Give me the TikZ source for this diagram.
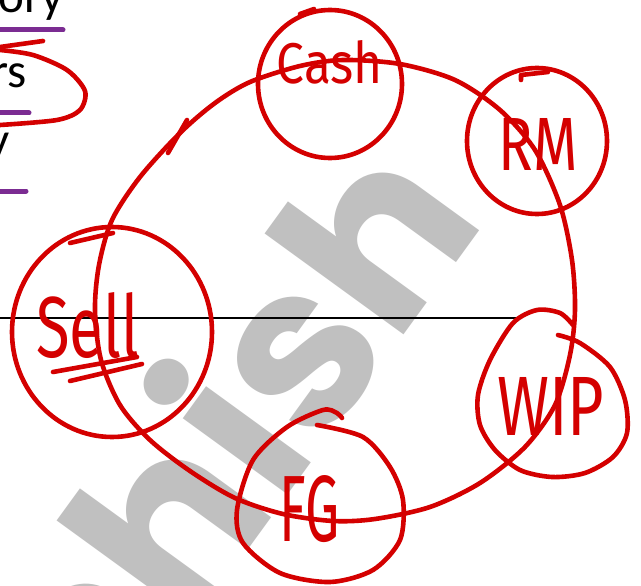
\documentclass[tikz,border=0pt]{standalone}
\usepackage{fontspec}
\usepackage{graphicx}
\setmainfont{Carlito}
\newfontfamily\wmfont{Poppins}
\newfontfamily\handfont{Fira Sans}
\definecolor{inkred}{RGB}{212,0,0}
\definecolor{inkpurple}{RGB}{123,44,146}
\definecolor{wmgray}{RGB}{192,192,192}
\begin{document}
\begin{tikzpicture}[x=1pt,y=-1pt,
  redink/.style={draw=inkred, line width=4.6pt, line cap=round, line join=round},
  purpleink/.style={draw=inkpurple, line width=5pt, line cap=round},
  blackrule/.style={draw=black, line width=2.6pt},
  handlabel/.style={text=inkred, inner sep=0pt, font=\handfont},
  bodytext/.style={text=black, inner sep=0pt, font=\fontsize{49}{58}\selectfont, anchor=base east},
]
\path[use as bounding box] (0,0) rectangle (641,586);
\clip (0,0) rectangle (641,586);
\fill[white] (0,0) rectangle (641,586);

% watermark
\node[rotate=54, anchor=base east, inner sep=0pt, text=wmgray,
      font=\wmfont\bfseries\fontsize{232}{232}\selectfont] (wm) at (488,220) {Ashish};

% black rule
\coordinate (ruleL) at (0,318);
\coordinate (ruleR) at (520,318);
\draw[blackrule] (ruleL) -- (ruleR);

% top-left text
\node[bodytext] (t1) at (64,13) {tory};
\node[bodytext] (t2) at (27,88) {rs};
\node[bodytext] (t3) at (10,157) {y};

% purple underlines
\draw[purpleink] (0,30) -- (63,30);
\draw[purpleink] (0,113) -- (29,113);
\draw[purpleink] (0,191) -- (26,191);

% red loop round "rs"
\draw[redink] (0,47) -- (43,41);
\draw[redink] plot[smooth] coordinates {(0,50) (33,55) (67,70) (85,91) (80,110) (57,120) (0,125)};

% big cycle
\draw[redink] plot[smooth cycle] coordinates {
  (250,82) (300,66) (343,60) (400,64) (455,80) (500,110) (535,150) (560,205)
  (572,260) (575,310) (570,355) (555,405) (525,447) (480,483) (430,507)
  (375,519) (333,521) (283,514) (235,498) (190,471) (150,440) (120,405)
  (101,360) (95,310) (99,265) (112,220) (140,177) (180,133) (215,103)};
\draw[redink] (187,120) -- (168,153);

% small circles
\draw[redink] (330,84) ellipse [x radius=72, y radius=74];
\draw[redink] (300,14) -- (314,9);
\draw[redink] (537,141) ellipse [x radius=70, y radius=73];
\draw[redink] (521,80) -- (521,75) -- (548,72);
\draw[redink] (112,332) ellipse [x radius=100, y radius=105];
\draw[redink] (70,243) -- (113,233);
\draw[redink] plot[smooth] coordinates {
  (558,335) (580,343) (610,367) (625,400) (627,433) (613,457) (585,473)
  (552,477) (520,470) (495,450) (480,425) (478,395) (490,360) (513,323)
  (537,310) (560,313) (573,325)};
\draw[redink] plot[smooth] coordinates {
  (317,425) (363,437) (390,467) (403,500) (400,540) (373,570) (330,582)
  (280,573) (243,543) (237,510) (253,460) (287,427) (323,410) (337,413) (342,418)};

% underlines of Sell
\draw[redink] (53,372) -- (137,357);
\draw[redink] (70,381) -- (142,364);

% handwritten labels
\node[handlabel] (cash) at (330,62) {\resizebox{106pt}{43pt}{Cash}};
\node[handlabel] (rm) at (538,144) {\resizebox{79pt}{52pt}{RM}};
\node[handlabel] (sell) at (88,326) {\resizebox{103pt}{65pt}{Sell}};
\node[handlabel] (wip) at (551,406) {\resizebox{107pt}{58pt}{WIP}};
\node[handlabel] (fg) at (310,509) {\resizebox{60pt}{66pt}{FG}};
\end{tikzpicture}
\end{document}
